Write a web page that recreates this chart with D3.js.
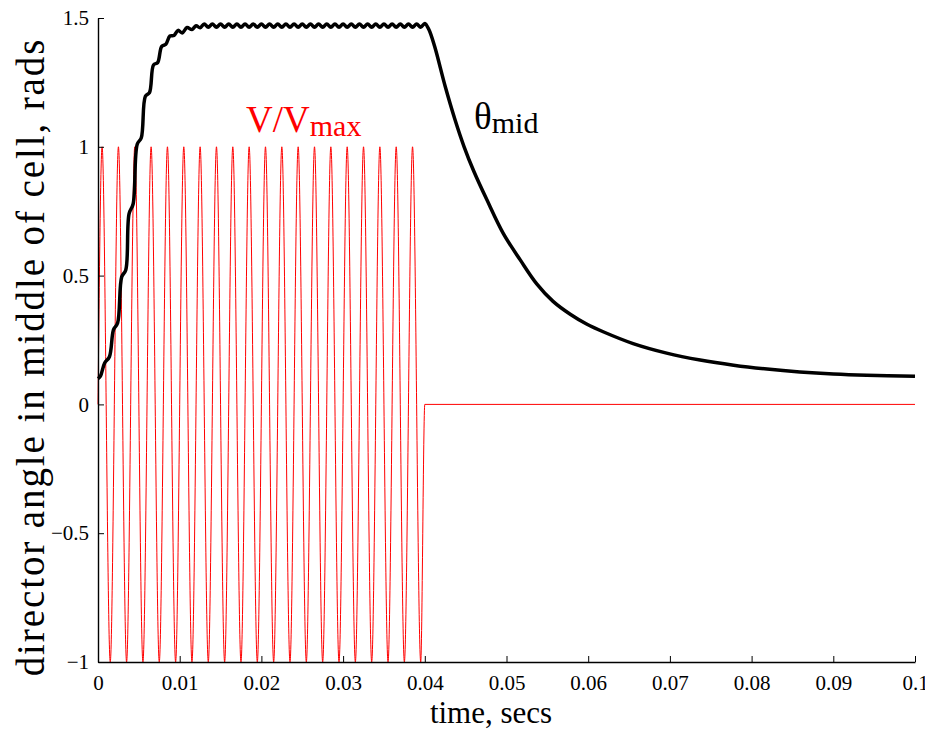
<!DOCTYPE html>
<html>
<head>
<meta charset="utf-8">
<script src="https://cdn.jsdelivr.net/npm/d3@7"></script>
<style>
  body { margin: 0; background: #fff; }
  text { font-family: "Liberation Serif", "DejaVu Serif", serif; }
</style>
</head>
<body>
<svg id="chart"></svg>
<script>
const width = 925;
const height = 733;

// x ticks (time, secs) and y ticks (rads)
const xTicks = [0, 0.01, 0.02, 0.03, 0.04, 0.05, 0.06, 0.07, 0.08, 0.09, 0.1];
const xTickLabels = ["0", "0.01", "0.02", "0.03", "0.04", "0.05", "0.06", "0.07", "0.08", "0.09", "0.1"];
const yTicks = [-1, -0.5, 0, 0.5, 1, 1.5];
const yTickLabels = ["\u22121", "\u22120.5", "0", "0.5", "1", "1.5"];

// V/Vmax : zero, then peaks / troughs every half period, switched off at 0.04
const voltage = [
  [0, 0],
  [0.0005, 1], [0.0015, -1], [0.0025, 1], [0.0035, -1], [0.0045, 1], [0.0055, -1],
  [0.0065, 1], [0.0075, -1], [0.0085, 1], [0.0095, -1], [0.0105, 1], [0.0115, -1],
  [0.0125, 1], [0.0135, -1], [0.0145, 1], [0.0155, -1], [0.0165, 1], [0.0175, -1],
  [0.0185, 1], [0.0195, -1], [0.0205, 1], [0.0215, -1], [0.0225, 1], [0.0235, -1],
  [0.0245, 1], [0.0255, -1], [0.0265, 1], [0.0275, -1], [0.0285, 1], [0.0295, -1],
  [0.0305, 1], [0.0315, -1], [0.0325, 1], [0.0335, -1], [0.0345, 1], [0.0355, -1],
  [0.0365, 1], [0.0375, -1], [0.0385, 1], [0.0395, -1],
  [0.0400, 0], [0.1000, 0]
];

// theta_mid : stepwise rise while the field is on
const thetaRise = [
  [0, 0.100], [0.0003, 0.110], [0.0008, 0.160], [0.0014, 0.185],
  [0.0019, 0.290], [0.0024, 0.316], [0.0029, 0.495], [0.0034, 0.522],
  [0.0038, 0.740], [0.0043, 0.778], [0.0048, 1.010], [0.0053, 1.035],
  [0.0058, 1.196], [0.0063, 1.210], [0.0068, 1.318], [0.0073, 1.327],
  [0.0078, 1.390], [0.0083, 1.398], [0.0088, 1.430], [0.0093, 1.432],
  [0.0098, 1.452], [0.0103, 1.442], [0.0109, 1.463], [0.0115, 1.455],
  [0.0120, 1.470], [0.0125, 1.462]
];

// small ripple on the plateau
const thetaPlateau = [
  [0.0130, 1.477], [0.0135, 1.464], [0.0140, 1.477], [0.0145, 1.464],
  [0.0150, 1.477], [0.0155, 1.464], [0.0160, 1.477], [0.0165, 1.464],
  [0.0170, 1.477], [0.0175, 1.464], [0.0180, 1.477], [0.0185, 1.464],
  [0.0190, 1.477], [0.0195, 1.464], [0.0200, 1.477], [0.0205, 1.464],
  [0.0210, 1.477], [0.0215, 1.464], [0.0220, 1.477], [0.0225, 1.464],
  [0.0230, 1.477], [0.0235, 1.464], [0.0240, 1.477], [0.0245, 1.464],
  [0.0250, 1.477], [0.0255, 1.464], [0.0260, 1.477], [0.0265, 1.464],
  [0.0270, 1.477], [0.0275, 1.464], [0.0280, 1.477], [0.0285, 1.464],
  [0.0290, 1.477], [0.0295, 1.464], [0.0300, 1.477], [0.0305, 1.464],
  [0.0310, 1.477], [0.0315, 1.464], [0.0320, 1.477], [0.0325, 1.464],
  [0.0330, 1.477], [0.0335, 1.464], [0.0340, 1.477], [0.0345, 1.464],
  [0.0350, 1.477], [0.0355, 1.464], [0.0360, 1.477], [0.0365, 1.464],
  [0.0370, 1.477], [0.0375, 1.464], [0.0380, 1.477], [0.0385, 1.464],
  [0.0390, 1.477], [0.0395, 1.464]
];

// relaxation after the field is removed
const thetaDecay = [
  [0.0400, 1.479], [0.0405, 1.455], [0.0412, 1.390], [0.0425, 1.234],
  [0.0437, 1.105], [0.0448, 1.001], [0.0460, 0.905], [0.0476, 0.794],
  [0.0496, 0.664], [0.0517, 0.560], [0.0537, 0.468], [0.0557, 0.400],
  [0.0578, 0.350], [0.0598, 0.312], [0.0619, 0.281], [0.0655, 0.236],
  [0.0696, 0.199], [0.0737, 0.172], [0.0778, 0.152], [0.0819, 0.137],
  [0.0859, 0.126], [0.0900, 0.118], [0.0941, 0.113], [0.1000, 0.109]
];

const x = d3.scaleLinear().domain([0, 0.1]).range([98, 915]);
const y = d3.scaleLinear().domain([-1, 1.5]).range([662, 18]);

const svg = d3.select("#chart")
    .attr("width", width)
    .attr("height", height);

svg.append("rect").attr("width", width).attr("height", height).attr("fill", "#fff");

const line = d3.line()
    .x(d => x(d[0]))
    .y(d => y(d[1]))
    .curve(d3.curveMonotoneX);

// red drive signal
svg.append("path")
    .datum(voltage)
    .attr("d", line)
    .attr("fill", "none")
    .attr("stroke", "#ff0000")
    .attr("stroke-width", 1);

// black director angle
const theta = thetaRise.concat(thetaPlateau, thetaDecay);
svg.append("path")
    .datum(theta)
    .attr("d", line.curve(d3.curveCatmullRom.alpha(0.5)))
    .attr("fill", "none")
    .attr("stroke", "#000")
    .attr("stroke-width", 3.5)
    .attr("stroke-linejoin", "round");

// axes, ticks pointing inward
const xAxis = d3.axisBottom(x)
    .tickValues(xTicks)
    .tickFormat((d, i) => xTickLabels[i])
    .tickSizeInner(-6)
    .tickSizeOuter(0)
    .tickPadding(13);

const yAxis = d3.axisLeft(y)
    .tickValues(yTicks)
    .tickFormat((d, i) => yTickLabels[i])
    .tickSizeInner(-6)
    .tickSizeOuter(0)
    .tickPadding(9);

const gx = svg.append("g").attr("transform", `translate(0,${y(-1)})`).call(xAxis);
const gy = svg.append("g").attr("transform", `translate(${x(0)},0)`).call(yAxis);

[gx, gy].forEach(g => {
    g.attr("font-family", "Liberation Serif").attr("font-size", 21);
    g.select(".domain").attr("stroke", "#000").attr("stroke-width", 1.4);
    g.selectAll(".tick line").attr("stroke", "#000").attr("stroke-width", 1);
    g.selectAll(".tick text").attr("fill", "#000");
});

// axis titles
svg.append("text")
    .attr("x", 491)
    .attr("y", 723)
    .attr("text-anchor", "middle")
    .style("font-size", "31px")
    .text("time, secs");

svg.append("text")
    .attr("transform", "translate(44,357) rotate(-90)")
    .attr("text-anchor", "middle")
    .style("font-size", "39px")
    .style("letter-spacing", "1.9px")
    .text("director angle in middle of cell, rads");

// curve labels
const vLabel = svg.append("text")
    .attr("x", 246)
    .attr("y", 132)
    .attr("fill", "#ff0000")
    .style("font-size", "37px");
vLabel.append("tspan").text("V/V");
vLabel.append("tspan").attr("dy", 4).style("font-size", "30px").text("max");

const tLabel = svg.append("text")
    .attr("x", 474)
    .attr("y", 129)
    .attr("fill", "#000")
    .style("font-size", "37px");
tLabel.append("tspan").text("\u03b8");
tLabel.append("tspan").attr("dy", 4).style("font-size", "30px").text("mid");
</script>
</body>
</html>
